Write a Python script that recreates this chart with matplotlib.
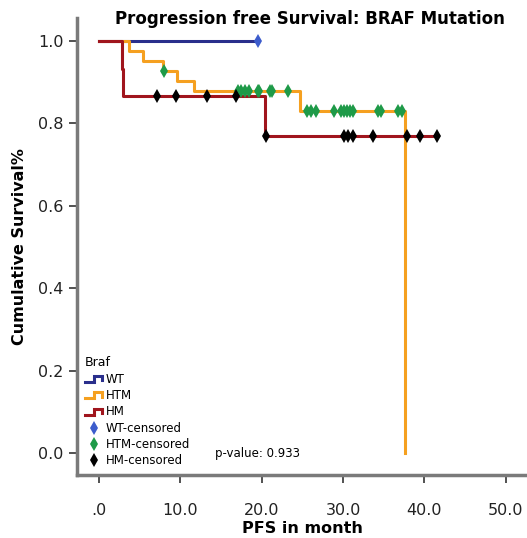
import numpy as np
import matplotlib
matplotlib.use('Agg')
import matplotlib.pyplot as plt
from matplotlib.lines import Line2D
from matplotlib.legend_handler import HandlerBase

# Kaplan-Meier steps (time in months, survival)
wt_t = [0.0, 19.6]
wt_s = [1.0, 1.0]
wt_cens = [19.6]

htm_t = [0.0, 3.7, 5.4, 7.9, 9.6, 11.7, 24.7, 37.6]
htm_s = [1.0, 0.976, 0.951, 0.927, 0.902, 0.878, 0.830, 0.0]
htm_cens = [8.0, 17.1, 17.5, 17.9, 18.4, 19.5, 19.7, 21.0, 21.3, 23.2,
            25.6, 26.0, 26.7, 28.9, 29.7, 30.1, 30.5, 30.9, 31.2,
            34.3, 34.7, 36.7, 37.2]

hm_t = [0.0, 2.8, 3.0, 20.4, 41.6]
hm_s = [1.0, 0.933, 0.867, 0.770, 0.770]
hm_cens = [7.1, 9.5, 13.3, 16.9, 20.5, 30.1, 30.6, 31.2, 33.7,
           37.9, 39.4, 41.6]

x_ticks = [0, 10, 20, 30, 40, 50]
x_labels = ['.0', '10.0', '20.0', '30.0', '40.0', '50.0']
y_ticks = [0.0, 0.2, 0.4, 0.6, 0.8, 1.0]

c_wt = '#2a2f8c'
c_htm = '#f5a020'
c_hm = '#a0151d'
c_wt_mk = '#3c5ccc'
c_htm_mk = '#1e9a48'
c_hm_mk = 'black'


def surv_at(times, surv, t):
    '''survival level of a step curve at time t'''
    i = np.searchsorted(times, t, side='right') - 1
    return np.asarray(surv)[i]


class StepHandler(HandlerBase):
    '''legend icon shaped like a small step'''
    def create_artists(self, legend, orig, xd, yd, w, h, fontsize, trans):
        xs = [xd, xd + 0.5*w, xd + 0.5*w, xd + w, xd + w]
        ys = [yd + 0.1*h, yd + 0.1*h, yd + 0.8*h, yd + 0.8*h, yd + 0.3*h]
        ln = Line2D(xs, ys, color=orig.get_color(), lw=2.2,
                    solid_joinstyle='miter', transform=trans)
        return [ln]


fig = plt.figure(figsize=(5.27, 5.38), dpi=100)
ax = fig.add_axes([77/527, 63/538, 450/527, 457/538])

curves = [(wt_t, wt_s, wt_cens, c_wt, c_wt_mk),
          (htm_t, htm_s, htm_cens, c_htm, c_htm_mk),
          (hm_t, hm_s, hm_cens, c_hm, c_hm_mk)]
lines = []
for t, s, cens, col, mcol in curves:
    ln, = ax.step(t, s, where='post', color=col, lw=2.2, zorder=2)
    lines.append(ln)
marks = []
for t, s, cens, col, mcol in curves:
    ys = [surv_at(t, s, c) for c in cens]
    mk, = ax.plot(cens, ys, ls='none', marker='d', ms=7, mew=0,
                  color=mcol, zorder=3)
    marks.append(mk)

ax.set_xlim(-2.7, 52.6)
ax.set_ylim(-0.053, 1.056)
ax.set_xticks(x_ticks)
ax.set_xticklabels(x_labels)
ax.set_yticks(y_ticks)
ax.set_yticklabels(['%.1f' % v for v in y_ticks])
ax.tick_params(labelsize=11.5, length=6, width=1.2, color='#333333',
               labelcolor='#222222')
ax.tick_params(axis='x', pad=14)

for side in ['top', 'right']:
    ax.spines[side].set_visible(False)
for side in ['left', 'bottom']:
    ax.spines[side].set_color('#7a7a7a')
    ax.spines[side].set_linewidth(2.5)

ax.set_xlabel('PFS in month', fontsize=11.5, fontweight='bold', labelpad=2)
ax.set_ylabel('Cumulative Survival%', fontsize=11.5, fontweight='bold', labelpad=8)
fig.text(0.588, 0.965, 'Progression free Survival: BRAF Mutation',
         ha='center', va='center', fontsize=12, fontweight='bold')

handles = lines + marks
labels = ['WT', 'HTM', 'HM', 'WT-censored', 'HTM-censored', 'HM-censored']
leg = ax.legend(handles, labels, title='Braf', loc='lower left',
                bbox_to_anchor=(0.0, 0.0), frameon=False, fontsize=8.5,
                title_fontsize=9, handlelength=1.5, handletextpad=0.3,
                labelspacing=0.28, borderaxespad=0.25,
                handler_map={l: StepHandler() for l in lines})
leg._legend_box.align = 'left'

ax.text(14.2, 0.0, 'p-value: 0.933', fontsize=8.5, va='center')

fig.savefig('out.png', dpi=100)
